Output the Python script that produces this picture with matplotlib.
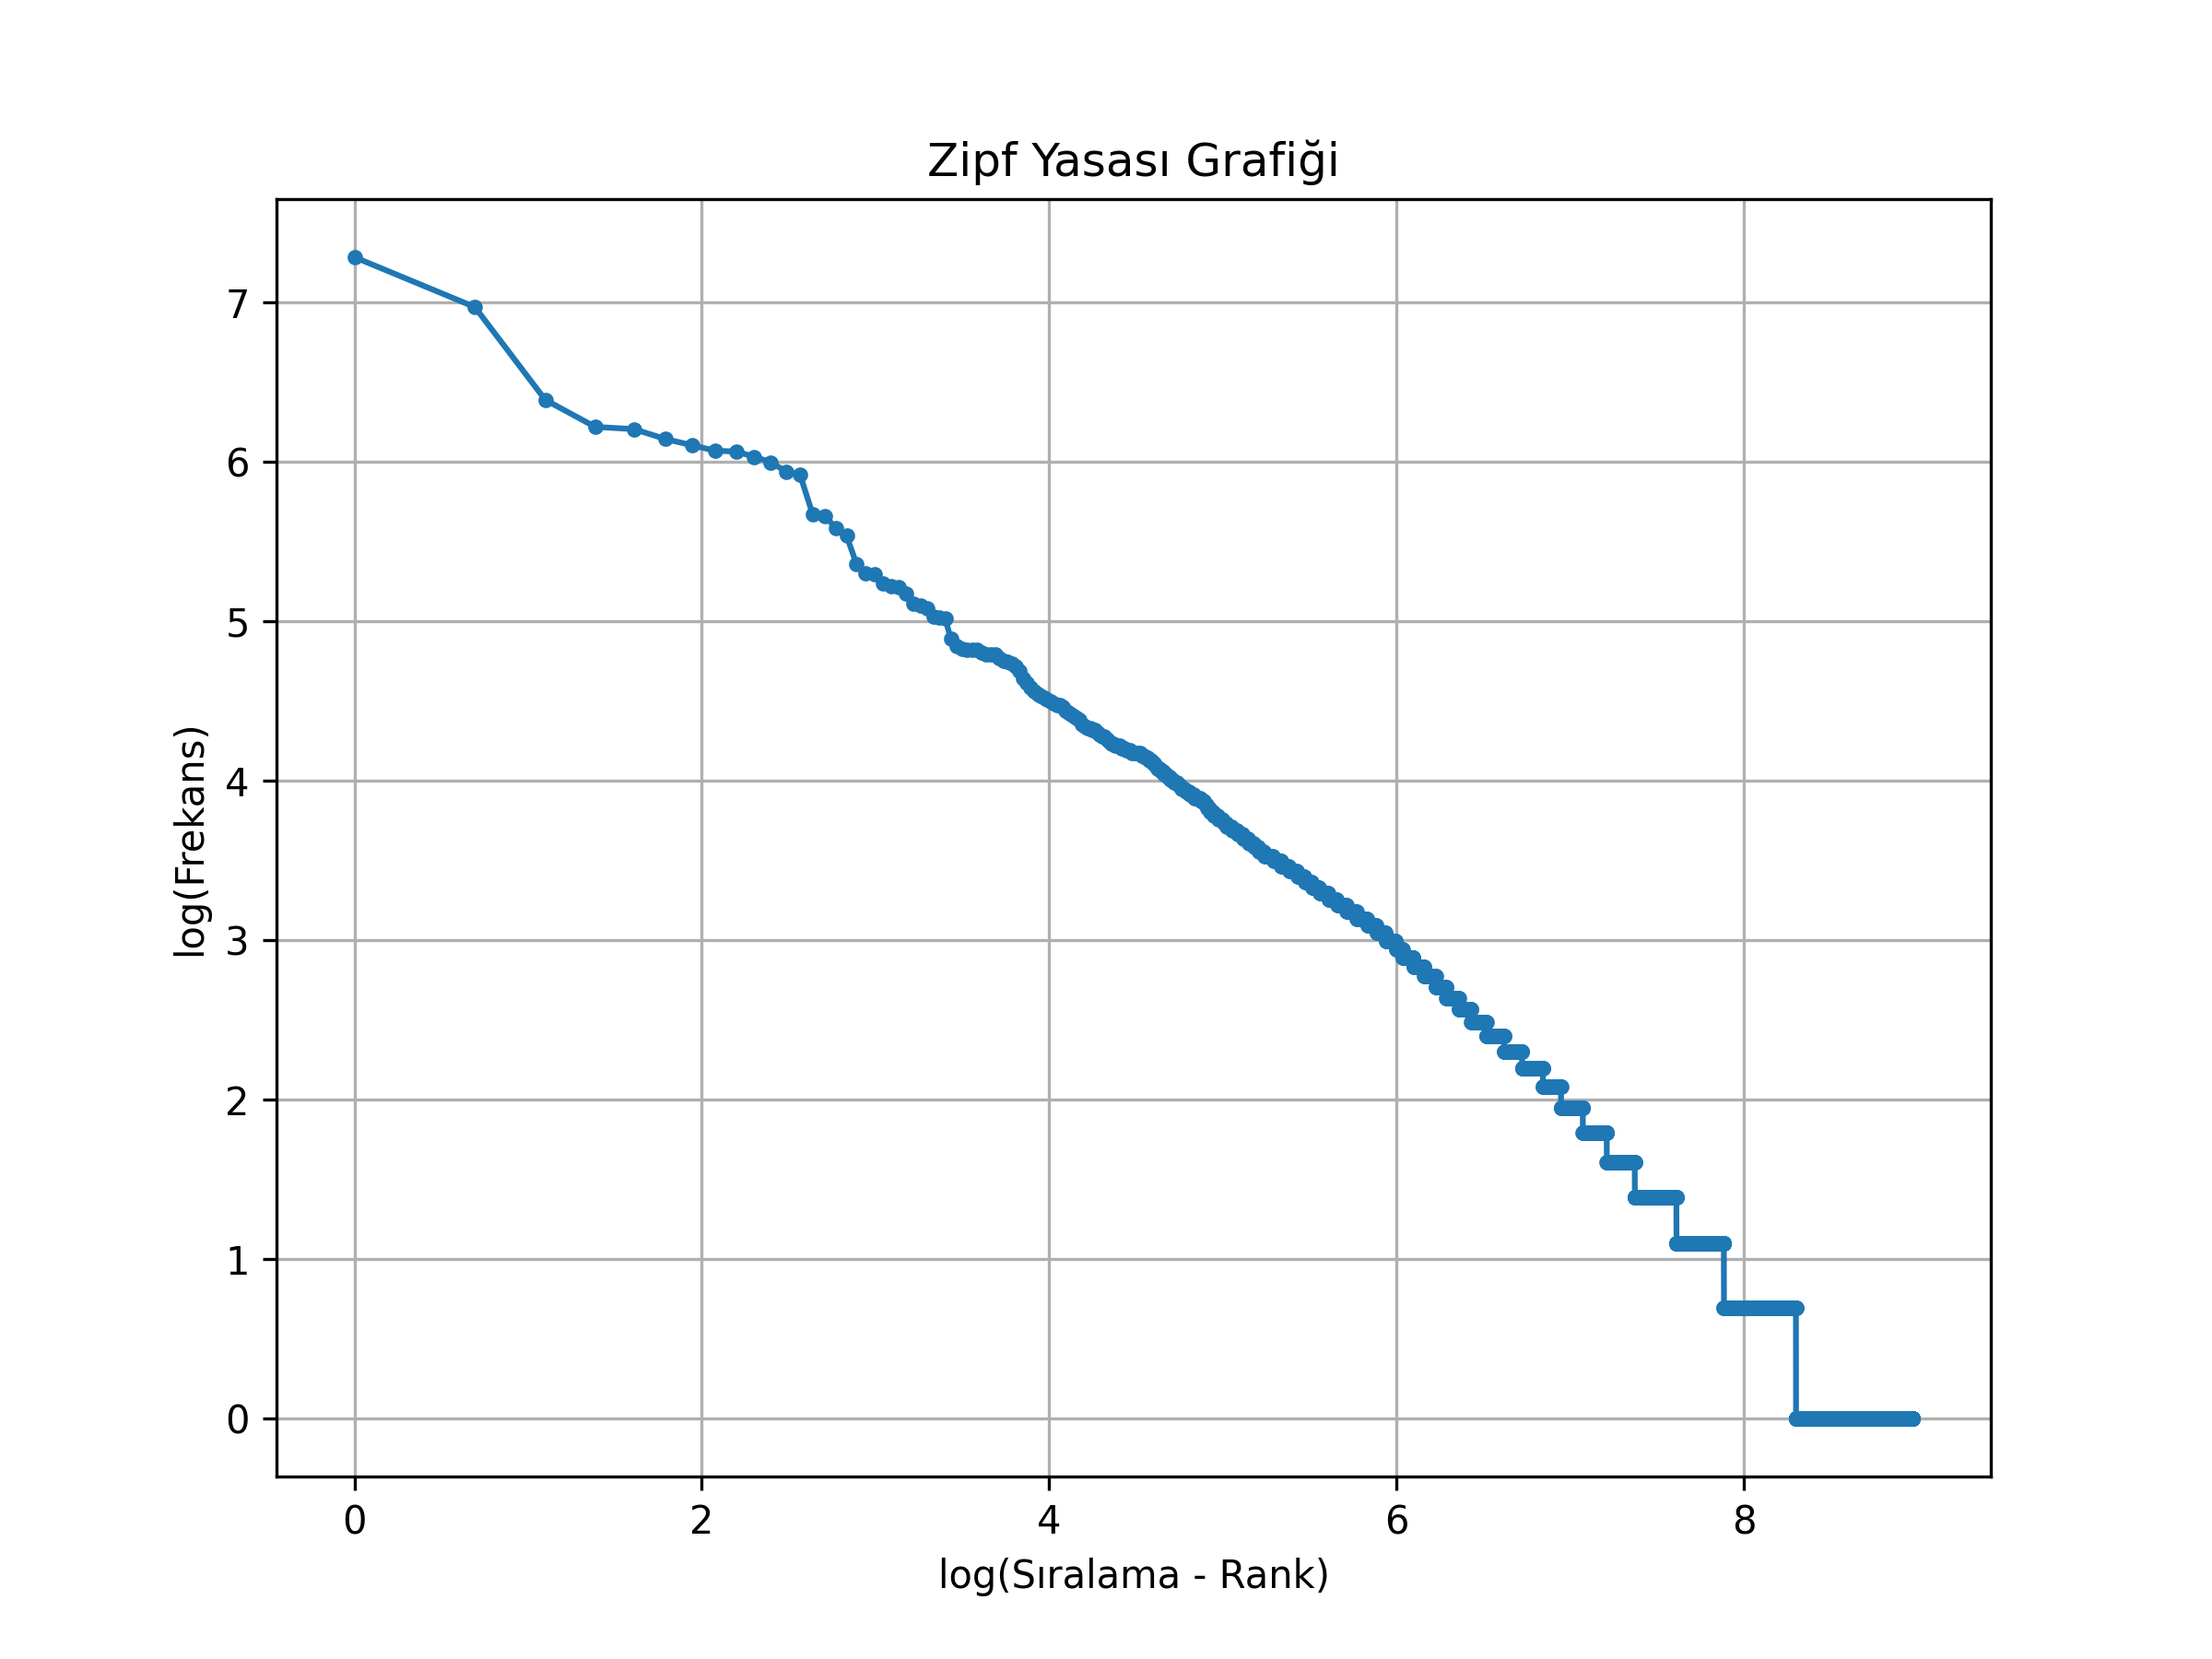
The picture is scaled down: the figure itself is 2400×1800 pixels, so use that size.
import numpy as np
import matplotlib
matplotlib.use('Agg')
import matplotlib.pyplot as plt

# frequencies of the most common words, rank 1..101
top_freqs = [1459, 1067, 596, 503, 496, 466, 448, 433, 431, 417,
             403, 380, 373, 290, 287, 267, 254, 213, 201, 200,
             188, 185, 184, 177, 166, 164, 161, 153, 152, 151,
             133, 127, 125, 124, 124, 124, 122, 121, 121, 121,
             118, 116, 115, 114, 112, 109, 104, 101, 98, 96,
             94, 93, 92, 91, 90, 89, 88, 88, 87, 85,
             84, 83, 82, 81, 80, 78, 77, 76, 76, 75,
             75, 74, 73, 72, 72, 71, 70, 69, 69, 68,
             68, 68, 67, 67, 66, 66, 66, 65, 65, 65,
             65, 65, 64, 64, 63, 63, 62, 62, 61, 61,
             60]

# rest of the vocabulary: frequency value and how many words have it
tail_freq_values = [59, 58, 57, 56, 55, 54, 53, 52, 51, 50,
                    49, 48, 47, 46, 45, 44, 43, 42, 41, 40,
                    39, 38, 37, 36, 35, 34, 33, 32, 31, 30,
                    29, 28, 27, 26, 25, 24, 23, 22, 21, 20,
                    19, 18, 17, 16, 15, 14, 13, 12, 11, 10,
                    9, 8, 7, 6, 5, 4, 3, 2, 1]
tail_word_counts = [2, 2, 2, 2, 2, 3, 2, 3, 3, 3,
                    5, 3, 2, 2, 3, 4, 4, 3, 5, 5,
                    5, 5, 6, 5, 6, 10, 9, 10, 10, 10,
                    10, 11, 14, 14, 16, 18, 20, 19, 19, 23,
                    16, 27, 28, 33, 31, 41, 42, 57, 73, 81,
                    106, 103, 139, 174, 237, 430, 635, 1365, 3861]

freqs = np.concatenate([np.array(top_freqs),
                        np.repeat(tail_freq_values, tail_word_counts)])
ranks = np.arange(1, len(freqs) + 1)

log_ranks = np.log(ranks)
log_freqs = np.log(freqs)

plt.figure(figsize=(8, 6))
plt.plot(log_ranks, log_freqs, marker='.')
plt.xlabel('log(Sıralama - Rank)')
plt.ylabel('log(Frekans)')
plt.title('Zipf Yasası Grafiği')
plt.grid(True)
plt.savefig('out.png', dpi=300)
